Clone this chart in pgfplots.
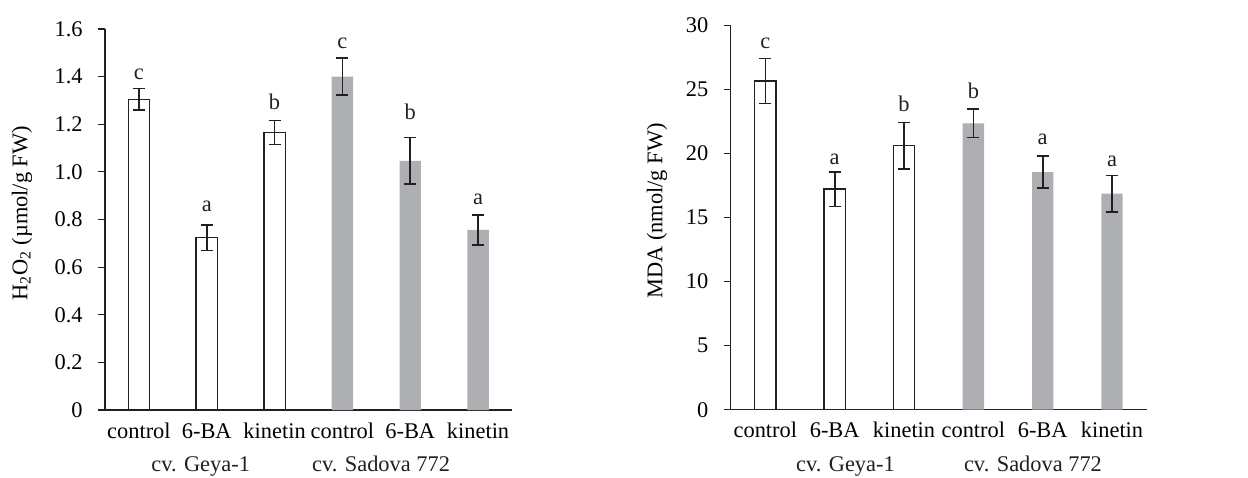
\documentclass[border=0pt]{standalone}
\usepackage{fontspec}
\setmainfont{Liberation Serif}
\usepackage{pgfplots}
\pgfplotsset{compat=1.18}
\definecolor{barfill}{RGB}{173,175,179}
\definecolor{ink}{RGB}{35,31,32}

\pgfplotsset{
  panel/.style={
    scale only axis, anchor=south west, clip=false,
    axis x line*=bottom, axis y line*=left,
    axis line style={-, ink, line width=0.6pt},
    xmin=-0.5, xmax=5.5, ymin=0,
    xtick={0,...,5},
    xticklabels={control,6-BA,kinetin,control,6-BA,kinetin},
    major x tick style={draw=none},
    tick align=outside, major tick length=3.5pt,
    ytick style={ink, line width=0.6pt},
    font=\fontsize{11.2}{13}\selectfont,
    xticklabel style={anchor=base, yshift=-10.6pt, inner sep=0pt},
    yticklabel style={anchor=east, inner sep=0pt, xshift=-7.5pt},
    every axis y label/.style={rotate=90, anchor=center},
  },
  whitebar/.style={ybar, bar width=10.7pt, bar shift=0pt, fill=white, draw=ink, line width=0.7pt,
    error bars/.cd, y dir=both, y explicit,
    error bar style={ink, line width=0.8pt},
    error mark options={rotate=90, mark size=3pt, line width=0.8pt, ink}},
  greybar/.style={ybar, bar width=10.7pt, bar shift=0pt, fill=barfill, draw=none,
    error bars/.cd, y dir=both, y explicit,
    error bar style={ink, line width=0.8pt},
    error mark options={rotate=90, mark size=3pt, line width=0.8pt, ink}},
  letters/.style={draw=none, mark=none, nodes near coords, point meta=explicit symbolic,
    nodes near coords style={anchor=base, inner sep=0pt, text=ink}},
}

\begin{document}
\begin{tikzpicture}
\useasboundingbox (0,0) rectangle (624pt,238.5pt);

% H2O2
\begin{axis}[panel, at={(52.5pt,33.5pt)}, width=203.5pt, height=190.5pt,
    ymax=1.6, ytick={0,0.2,...,1.6},
    yticklabels={0,0.2,0.4,0.6,0.8,1.0,1.2,1.4,1.6},
    ylabel={H\textsubscript{2}O\textsubscript{2} (µmol/g FW)},
    ylabel style={at={(axis description cs:-0.204,0.516)}}]
  \addplot[whitebar] coordinates {(0,1.305) +- (0,0.045) (1,0.724) +- (0,0.054) (2,1.165) +- (0,0.050)};
  \addplot[greybar] coordinates {(3,1.400) +- (0,0.078) (4,1.046) +- (0,0.098) (5,0.756) +- (0,0.063)};
  \addplot[letters] coordinates {(0,1.386)[c] (1,0.833)[a] (2,1.260)[b] (3,1.519)[c] (4,1.221)[b] (5,0.865)[a]};
  \node[anchor=base, text=ink] at (axis cs:0.91,0) [yshift=-30.85pt] {cv. Geya-1};
  \node[anchor=base, text=ink] at (axis cs:3.57,0) [yshift=-30.85pt] {cv. Sadova 772};
\end{axis}

% MDA
\begin{axis}[panel, at={(365.35pt,33.65pt)}, width=208pt, height=192.2pt,
    ymax=30, ytick={0,5,...,30},
    yticklabels={0,5,10,15,20,25,30},
    ylabel={MDA (nmol/g FW)},
    ylabel style={at={(axis description cs:-0.177,0.517)}}]
  \addplot[whitebar] coordinates {(0,25.65) +- (0,1.75) (1,17.22) +- (0,1.35) (2,20.60) +- (0,1.82)};
  \addplot[greybar] coordinates {(3,22.35) +- (0,1.10) (4,18.55) +- (0,1.25) (5,16.86) +- (0,1.42)};
  \addplot[letters] coordinates {(0,28.2)[c] (1,19.1)[a] (2,23.26)[b] (3,24.3)[b] (4,20.66)[a] (5,18.96)[a]};
  \node[anchor=base, text=ink] at (axis cs:1.155,0) [yshift=-30.85pt] {cv. Geya-1};
  \node[anchor=base, text=ink] at (axis cs:3.86,0) [yshift=-30.85pt] {cv. Sadova 772};
\end{axis}
\end{tikzpicture}
\end{document}
